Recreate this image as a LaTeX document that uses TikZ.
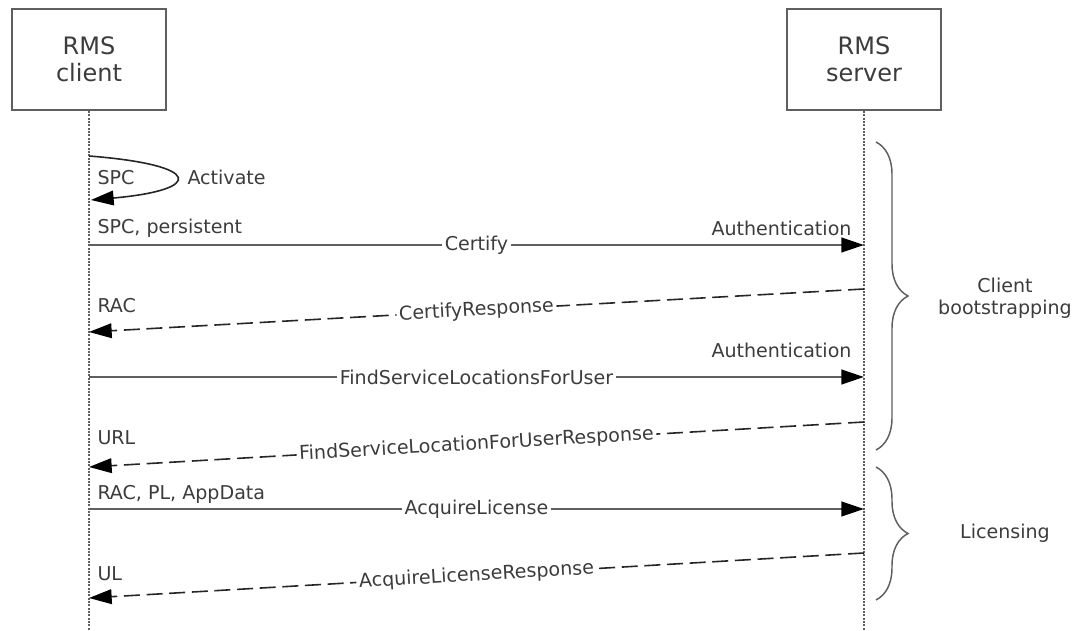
\documentclass[tikz,border=0pt]{standalone}
\usepackage{fontspec}
\setmainfont{DejaVu Sans}
\usetikzlibrary{arrows.meta,decorations.pathreplacing}

\definecolor{inkgray}{RGB}{60,60,60}
\definecolor{linegray}{RGB}{95,95,95}
\newcommand{\msgfont}{\fontsize{14.3pt}{16.5pt}\selectfont}
\newcommand{\actorfont}{\fontsize{18pt}{20.5pt}\selectfont}

\tikzset{every picture/.style={line width=0.75pt}}
\tikzset{
  actor/.style={draw=linegray, line width=1.5pt, minimum width=116pt, minimum height=76pt, align=center, font=\actorfont, text=inkgray},
  lifeline/.style={draw=linegray, line width=1.4pt, dash pattern=on 1.4pt off 1.1pt},
  tip/.style={-{Triangle[length=17pt,width=11pt,color=black]}},
  call/.style={draw=linegray, line width=1.7pt, tip},
  reply/.style={draw=black!85, line width=1.2pt, dash pattern=on 12pt off 5pt, tip},
  selfcall/.style={draw=black!85, line width=1.2pt, tip},
  lbl/.style={midway, fill=white, inner sep=2pt, font=\msgfont, text=inkgray},
  note/.style={font=\msgfont, text=inkgray, inner sep=0pt},
  group/.style={draw=linegray, line width=1.1pt, decorate, decoration={brace, amplitude=24pt}},
}

\begin{document}
\begin{tikzpicture}[x=0.75pt,y=0.75pt,yscale=-1,xscale=1]
\path[use as bounding box] (0,0) rectangle (1076,631);

% Actors
\node[actor] (client) at (89,59.5) {RMS\\client};
\node[actor] (server) at (864,59.5) {RMS\\server};

% Lifelines
\coordinate (cEnd) at (89,631);
\coordinate (sEnd) at (864,631);
\draw[lifeline] (client.south) -- (cEnd);
\draw[lifeline] (server.south) -- (sEnd);

% Activate
\coordinate (act0) at (89,156);
\coordinate (act1) at (91,200);
\draw[selfcall] (act0) .. controls (204,165) and (204,190) .. (act1);
\node[note, anchor=west] (actLbl) at (187,177) {Activate};
\node[note, anchor=west] (spcLbl) at (97,178) {SPC};

% Certify
\coordinate (c1) at (89,245);
\coordinate (s1) at (864,245);
\draw[call] (c1) -- node[lbl] {Certify} (s1);
\node[note, anchor=west] (spcPers) at (97,228) {SPC, persistent};
\node[note, anchor=east] (auth1) at (852,228) {Authentication};

% CertifyResponse
\coordinate (s2) at (864,289);
\coordinate (c2) at (89,332);
\draw[reply] (s2) -- node[lbl, rotate=3.2] {CertifyResponse} (c2);
\node[note, anchor=west] (racLbl) at (97,306) {RAC};

% FindServiceLocationsForUser
\coordinate (c3) at (89,377);
\coordinate (s3) at (864,377);
\draw[call] (c3) -- node[lbl] {FindServiceLocationsForUser} (s3);
\node[note, anchor=east] (auth2) at (852,350) {Authentication};

% FindServiceLocationForUserResponse
\coordinate (s4) at (864,422);
\coordinate (c4) at (89,467);
\draw[reply] (s4) -- node[lbl, rotate=3.3] {FindServiceLocationForUserResponse} (c4);
\node[note, anchor=west] (urlLbl) at (97,438) {URL};

% AcquireLicense
\coordinate (c5) at (89,509);
\coordinate (s5) at (864,509);
\draw[call] (c5) -- node[lbl] {AcquireLicense} (s5);
\node[note, anchor=west] (racPl) at (97,494) {RAC, PL, AppData};

% AcquireLicenseResponse
\coordinate (s6) at (864,553);
\coordinate (c6) at (89,598);
\draw[reply] (s6) -- node[lbl, rotate=3.3] {AcquireLicenseResponse} (c6);
\node[note, anchor=west] (ulLbl) at (97,574) {UL};

% Braces
\coordinate (b1a) at (876,142);
\coordinate (b1b) at (876,450);
\coordinate (b2a) at (876,467);
\coordinate (b2b) at (876,600);
\draw[group] (b1a) -- (b1b);
\draw[group] (b2a) -- (b2b);
\node[note, align=center] (bootLbl) at (1005,298) {Client\\bootstrapping};
\node[note] (licLbl) at (1005,533) {Licensing};

\end{tikzpicture}
\end{document}
